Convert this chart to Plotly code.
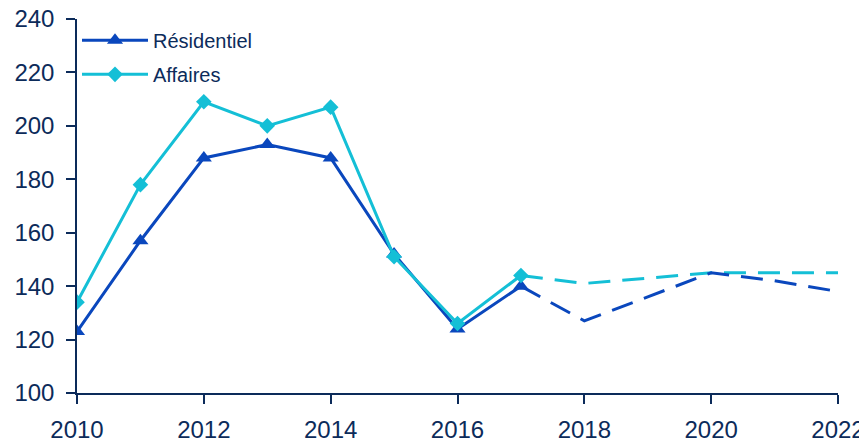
import plotly.graph_objects as go

years = [2010, 2011, 2012, 2013, 2014, 2015, 2016, 2017]
years_proj = [2017, 2018, 2019, 2020, 2021, 2022]

residentiel = [123, 157, 188, 193, 188, 152, 124, 140]
residentiel_proj = [140, 127, 136, 145, 142, 138]

affaires = [134, 178, 209, 200, 207, 151, 126, 144]
affaires_proj = [144, 141, 143, 145, 145, 145]

NAVY = "#0c2b5a"
C_RES = "#0a47bd"
C_AFF = "#14bfd6"

fig = go.Figure()

# observed values
fig.add_scatter(x=years, y=residentiel, name="Résidentiel", mode="lines+markers",
                legendgroup="res",
                line=dict(color=C_RES, width=3),
                marker=dict(symbol="triangle-up", size=14, color=C_RES))
fig.add_scatter(x=years, y=affaires, name="Affaires", mode="lines+markers",
                legendgroup="aff",
                line=dict(color=C_AFF, width=3),
                marker=dict(symbol="diamond", size=12, color=C_AFF))

# projections (dashed)
fig.add_scatter(x=years_proj, y=affaires_proj, mode="lines", showlegend=False,
                legendgroup="aff",
                line=dict(color=C_AFF, width=3, dash="22px,12px"), hoverinfo="skip")
fig.add_scatter(x=years_proj, y=residentiel_proj, mode="lines", showlegend=False,
                legendgroup="res",
                line=dict(color=C_RES, width=3, dash="22px,12px"), hoverinfo="skip")

# page body has an 8px margin, so the plot area is shifted up/left by 8px here
fig.update_layout(
    width=867, height=447,
    margin=dict(l=69, r=37, t=11, b=62),
    paper_bgcolor="white", plot_bgcolor="white",
    font=dict(family="Liberation Sans, Arial, sans-serif", color=NAVY, size=24),
    legend=dict(x=0.0, y=0.995, xanchor="left", yanchor="top",
                font=dict(size=20, color=NAVY), bgcolor="rgba(0,0,0,0)",
                traceorder="grouped", tracegroupgap=5, itemwidth=66),
    showlegend=True,
)
fig.update_xaxes(range=[2010, 2022], tickvals=list(range(2010, 2023, 2)),
                 automargin=False, ticklabeloverflow="allow",
                 showgrid=False, zeroline=False, showline=True, linecolor=NAVY,
                 linewidth=1.5, ticks="outside", tickcolor=NAVY, ticklen=9,
                 tickwidth=1.5, ticklabelstandoff=5, tickfont=dict(size=24, color=NAVY))
fig.update_yaxes(range=[100, 240], tickvals=list(range(100, 241, 20)),
                 automargin=False, ticklabeloverflow="allow",
                 showgrid=False, zeroline=False, showline=True, linecolor=NAVY,
                 linewidth=1.5, ticks="outside", tickcolor=NAVY, ticklen=9,
                 tickwidth=1.5, ticklabelstandoff=7, tickfont=dict(size=24, color=NAVY))

fig.write_html("out.html")
